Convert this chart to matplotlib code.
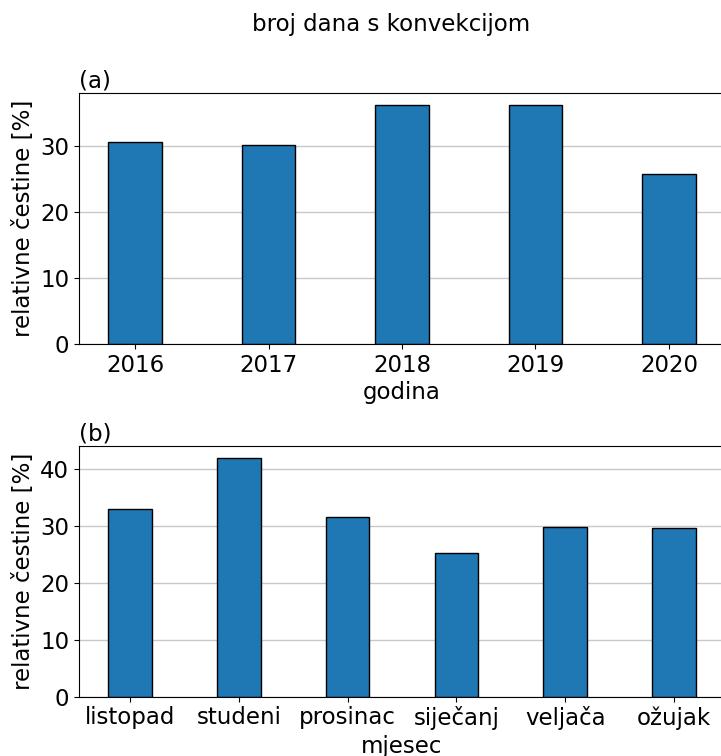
import matplotlib
matplotlib.use('Agg')
import matplotlib.pyplot as plt

years = ['2016', '2017', '2018', '2019', '2020']
year_share = [30.7, 30.2, 36.3, 36.3, 25.8]

months = ['listopad', 'studeni', 'prosinac', 'siječanj', 'veljača', 'ožujak']
month_share = [32.9, 42.0, 31.6, 25.2, 29.9, 29.7]

plt.rcParams['font.size'] = 16.5

fig = plt.figure(figsize=(7.21, 7.56), dpi=100)
ax1 = fig.add_axes([79 / 721, 0.5446, 646 / 721, 0.3324])
ax2 = fig.add_axes([79 / 721, 0.0784, 646 / 721, 0.332])

for ax, cats, vals, xlab, lab in [(ax1, years, year_share, 'godina', '(a)'),
                                  (ax2, months, month_share, 'mjesec', '(b)')]:
    ax.bar(range(len(cats)), vals, width=0.4, color='#1f77b4', edgecolor='black')
    ax.set_xticks(range(len(cats)))
    ax.set_xticklabels(cats)
    ax.set_xlabel(xlab, labelpad=3)
    ax.set_ylabel('relativne čestine [%]')
    ax.set_title(lab, loc='left', fontsize=16.5, pad=4)
    ax.grid(axis='y', color='#c8c8c8', linewidth=1)
    ax.set_axisbelow(True)

fig.text(391 / 721, 1 - 25 / 756, 'broj dana s konvekcijom', ha='center', va='center', fontsize=16.5)

fig.savefig('out.png', dpi=100)
